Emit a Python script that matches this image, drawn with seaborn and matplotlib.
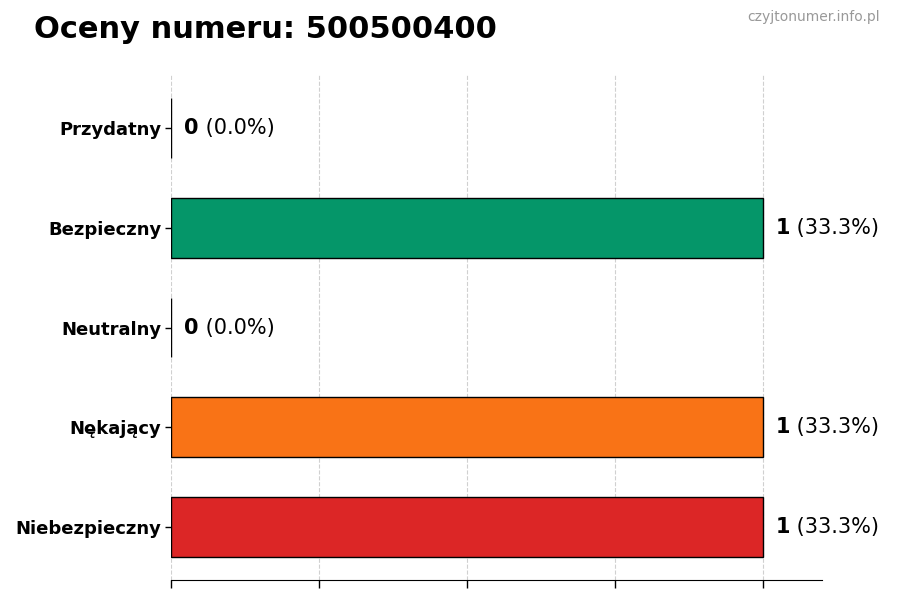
import matplotlib
matplotlib.use("Agg")
import matplotlib.pyplot as plt
import seaborn as sns
import pandas as pd

categories = ["Przydatny", "Bezpieczny", "Neutralny", "Nękający", "Niebezpieczny"]
counts = [0, 1, 0, 1, 1]
percents = ["0.0%", "33.3%", "0.0%", "33.3%", "33.3%"]
colors = ["#3b82f6", "#059669", "#9ca3af", "#f97316", "#dc2626"]
title = "Oceny numeru: 500500400"
watermark = "czyjtonumer.info.pl"

sns.set_style("white")
plt.rcParams['font.family'] = ['DejaVu Sans']
plt.rcParams['text.color'] = 'black'
plt.rcParams['axes.labelcolor'] = 'black'
plt.rcParams['xtick.color'] = 'black'
plt.rcParams['ytick.color'] = 'black'

df = pd.DataFrame({"cat": categories, "count": counts})
fig = plt.figure(figsize=(9, 6), dpi=100)
ax = fig.add_axes([0.19, 0.0333, 0.723, 0.8417])

sns.barplot(data=df, y="cat", x="count", hue="cat", palette=colors, order=categories,
            hue_order=categories, orient="h", width=0.6, edgecolor="black", linewidth=1,
            saturation=1, legend=False, ax=ax, zorder=2)

ax.set_xlim(0, 1.1)
ax.set_ylim(4.53, -0.53)
ax.set_xticks([0, 0.25, 0.5, 0.75, 1.0])
ax.set_xticklabels([])
ax.xaxis.grid(True, linestyle="--", color="#d0d0d0", linewidth=0.8, zorder=0)
ax.set_axisbelow(True)
ax.set_xlabel("")
ax.set_ylabel("")
for s in ["top", "right", "left"]:
    ax.spines[s].set_visible(False)
ax.spines["bottom"].set_color("black")
ax.tick_params(axis="x", length=6, width=1, color="black", bottom=True)
ax.tick_params(axis="y", length=4, width=1, color="black", left=True, pad=3)
for lbl in ax.get_yticklabels():
    lbl.set_fontweight("bold")
    lbl.set_fontsize(13)
    lbl.set_color("black")

fig.canvas.draw()
renderer = fig.canvas.get_renderer()
for i, (c, p) in enumerate(zip(counts, percents)):
    t = ax.annotate(str(c), xy=(c, i), xytext=(9.5, 0), textcoords="offset points",
                    ha="left", va="center", fontsize=15, fontweight="bold", color="black")
    bb = t.get_window_extent(renderer)
    w = bb.width * 72 / fig.dpi
    ax.annotate(f" ({p})", xy=(c, i), xytext=(9.5 + w, 0), textcoords="offset points",
                ha="left", va="center", fontsize=15, color="black")

fig.text(34 / 900, 1 - 30 / 600, title, fontsize=22, fontweight="bold", ha="left", va="center", color="black")
fig.text(880 / 900, 1 - 17 / 600, watermark, fontsize=10, color="#999999", ha="right", va="center")

fig.savefig("out.png", dpi=100)
